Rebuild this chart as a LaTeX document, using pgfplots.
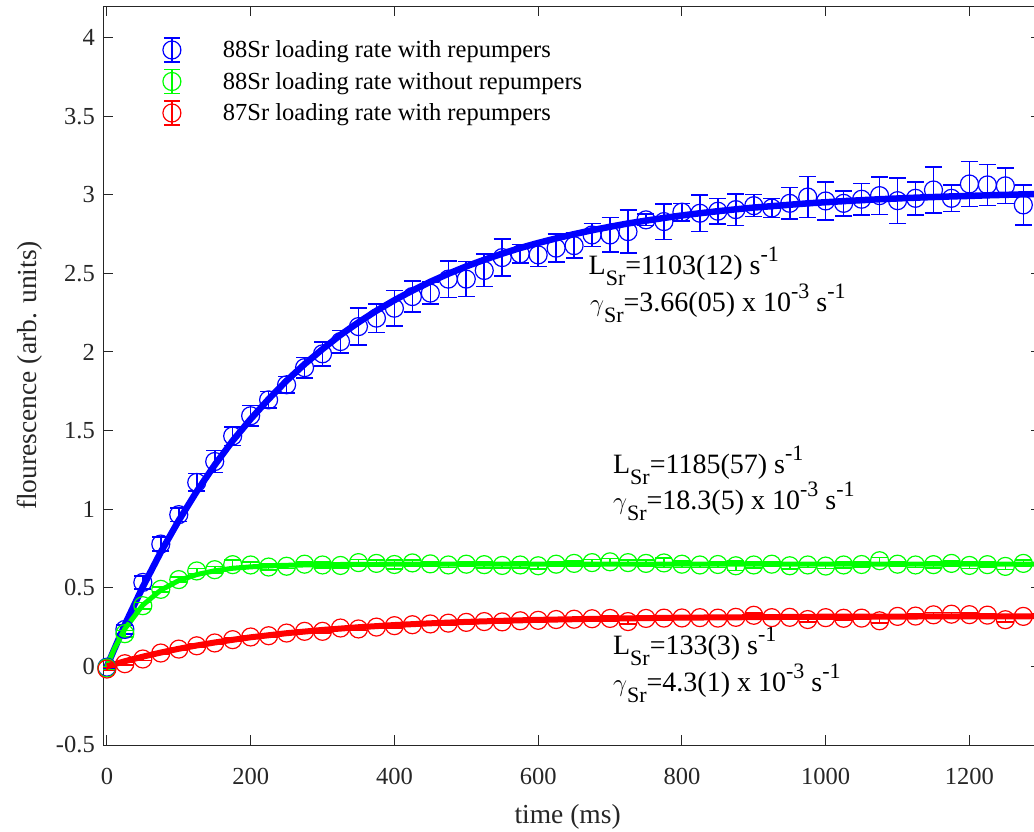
\documentclass[border=0pt]{standalone}
\usepackage{fontspec}
\setmainfont{Liberation Serif}
\usepackage{pgfplots}
\pgfplotsset{compat=1.18}
\usepackage{pgfplotstable}
\definecolor{axgray}{gray}{0.15}
\newcommand{\sbs}[1]{\raisebox{-11pt}{\fontsize{22}{22}\selectfont #1}}
\newcommand{\sps}[1]{\raisebox{13pt}{\fontsize{22}{22}\selectfont #1}}

\pgfplotstableread{
x y e
0 -0.005 0.01
25 0.235 0.03
50 0.534 0.04
75 0.778 0.046
100 0.965 0.043
125 1.170 0.056
150 1.303 0.069
175 1.465 0.059
200 1.594 0.064
225 1.695 0.053
250 1.791 0.053
275 1.900 0.064
300 1.988 0.076
325 2.066 0.071
350 2.161 0.117
375 2.215 0.091
400 2.278 0.112
425 2.352 0.098
450 2.374 0.071
475 2.463 0.116
500 2.463 0.111
525 2.518 0.103
550 2.600 0.119
575 2.624 0.058
600 2.617 0.074
625 2.660 0.09
650 2.676 0.08
675 2.744 0.074
700 2.744 0.11
725 2.765 0.136
750 2.840 0.037
775 2.829 0.113
800 2.889 0.055
825 2.882 0.117
850 2.895 0.08
875 2.905 0.10
900 2.930 0.07
925 2.915 0.06
950 2.945 0.10
975 2.985 0.13
1000 2.960 0.12
1025 2.945 0.08
1050 2.971 0.10
1075 2.994 0.12
1100 2.962 0.145
1125 2.977 0.105
1150 3.030 0.146
1175 2.977 0.085
1200 3.068 0.144
1225 3.062 0.13
1250 3.056 0.113
1275 2.935 0.127
}\bluedata

\pgfplotstableread{
x y
0 0
25 0.265
50 0.506
75 0.727
100 0.928
125 1.113
150 1.281
175 1.435
200 1.573
225 1.700
250 1.817
275 1.922
300 2.018
325 2.108
350 2.188
375 2.262
400 2.329
425 2.390
450 2.446
475 2.497
500 2.544
525 2.586
550 2.625
575 2.661
600 2.693
625 2.722
650 2.749
675 2.774
700 2.796
725 2.817
750 2.835
775 2.852
800 2.868
825 2.882
850 2.895
875 2.907
900 2.918
925 2.927
950 2.936
975 2.945
1000 2.952
1025 2.959
1050 2.965
1075 2.971
1100 2.976
1125 2.981
1150 2.985
1175 2.989
1200 2.992
1225 2.996
1250 2.999
1275 3.002
1300 3.004
}\bluefit

\pgfplotstableread{
x y e
0 -0.010 0.01
25 0.208 0.02
50 0.386 0.02
75 0.490 0.015
100 0.552 0.015
125 0.607 0.015
150 0.615 0.02
175 0.647 0.03
200 0.645 0.02
225 0.632 0.02
250 0.637 0.015
275 0.650 0.015
300 0.645 0.02
325 0.642 0.015
350 0.660 0.02
375 0.655 0.02
400 0.648 0.03
425 0.658 0.02
450 0.652 0.015
475 0.645 0.015
500 0.650 0.015
525 0.647 0.02
550 0.642 0.015
575 0.645 0.02
600 0.640 0.02
625 0.650 0.015
650 0.655 0.015
675 0.660 0.02
700 0.665 0.02
725 0.660 0.015
750 0.655 0.02
775 0.658 0.03
800 0.650 0.02
825 0.645 0.015
850 0.648 0.02
875 0.640 0.03
900 0.645 0.02
925 0.650 0.015
950 0.640 0.02
975 0.645 0.015
1000 0.638 0.015
1025 0.645 0.02
1050 0.648 0.015
1075 0.672 0.02
1100 0.650 0.015
1125 0.645 0.015
1150 0.647 0.02
1175 0.655 0.015
1200 0.642 0.02
1225 0.647 0.015
1250 0.636 0.02
1275 0.655 0.02
}\greendata

\pgfplotstableread{
x y
0 0
10 0.109
25 0.239
50 0.390
75 0.485
100 0.546
125 0.584
150 0.608
175 0.624
200 0.633
225 0.639
250 0.643
300 0.647
350 0.649
400 0.650
1300 0.650
}\greenfit

\pgfplotstableread{
x y e
0 -0.017 0.01
25 0.017 0.01
50 0.047 0.01
75 0.085 0.01
100 0.110 0.01
125 0.131 0.01
150 0.149 0.01
175 0.170 0.01
200 0.187 0.01
225 0.195 0.01
250 0.212 0.01
275 0.223 0.01
300 0.223 0.01
325 0.244 0.01
350 0.238 0.01
375 0.250 0.01
400 0.259 0.015
425 0.265 0.01
450 0.270 0.01
475 0.275 0.01
500 0.280 0.01
525 0.285 0.01
550 0.283 0.01
575 0.290 0.01
600 0.293 0.015
625 0.298 0.01
650 0.300 0.01
675 0.303 0.01
700 0.305 0.015
725 0.285 0.015
750 0.305 0.01
775 0.307 0.01
800 0.308 0.01
825 0.310 0.01
850 0.307 0.01
875 0.312 0.01
900 0.325 0.015
925 0.310 0.01
950 0.312 0.01
975 0.298 0.015
1000 0.310 0.01
1025 0.306 0.01
1050 0.307 0.01
1075 0.290 0.015
1100 0.318 0.01
1125 0.320 0.015
1150 0.328 0.015
1175 0.332 0.01
1200 0.329 0.01
1225 0.326 0.01
1250 0.297 0.015
1275 0.318 0.01
}\reddata

\pgfplotstableread{
x y
0 0
25 0.033
50 0.062
75 0.088
100 0.112
125 0.133
150 0.152
175 0.169
200 0.185
250 0.211
300 0.232
350 0.249
400 0.263
450 0.274
500 0.283
550 0.290
600 0.296
700 0.304
800 0.310
900 0.313
1000 0.316
1100 0.317
1200 0.318
1300 0.319
}\redfit

\pgfplotsset{
  errlegend/.style={legend image code/.code={
    \draw[#1, line width=1.5pt] (8pt,-12pt) -- (8pt,12pt) (0pt,-12pt) -- (16pt,-12pt) (0pt,12pt) -- (16pt,12pt);
    \draw[#1, line width=1.2pt] (8pt,0pt) circle (9pt);
    \path[draw=none, fill=none] (0pt,0pt) -- (58pt,0pt);}},
  fitstyle/.style 2 args={#1, line width=#2, line join=round, no marks, forget plot},
}

\begin{document}
\begin{tikzpicture}
\begin{axis}[
  name=ax,
  scale only axis, width=938pt, height=739pt,
  xmin=-5, xmax=1300, ymin=-0.5, ymax=4.2,
  axis line style={draw=axgray, line width=0.9pt},
  tick style={draw=axgray, line width=0.9pt},
  tick align=inside, major tick length=10pt,
  xtick={0,200,400,600,800,1000,1200},
  xticklabels={0,200,400,600,800,1000,1200},
  ytick={-0.5,0,0.5,1,1.5,2,2.5,3,3.5,4},
  yticklabels={-0.5,0,0.5,1,1.5,2,2.5,3,3.5,4},
  ticklabel style={font=\fontsize{24.5}{29}\selectfont, text=axgray},
  xticklabel style={yshift=-20pt},
  yticklabel style={xshift=-5pt},
  xlabel={time (ms)},
  ylabel={flourescence (arb. units)},
  label style={font=\fontsize{27.5}{32}\selectfont, text=axgray},
  xlabel style={at={(axis description cs:0.495,-0.0975)}, anchor=center},
  ylabel style={at={(axis description cs:-0.0785,0.5)}, anchor=center},
  legend style={draw=none, fill=none, at={(axis description cs:0.0627,0.958)},
    anchor=north west, font=\fontsize{24.5}{29}\selectfont, inner sep=0pt,
    row sep=6pt, nodes={inner sep=1pt}},
  legend cell align=left,
]
\addplot[only marks, blue, mark=o, mark size=9pt, mark options={line width=1.2pt, solid}, errlegend=blue,
  error bars/.cd, y dir=both, y explicit,
  error bar style={line width=1.6pt, blue},
  error mark options={rotate=90, mark size=8.5pt, line width=1.6pt, blue}]
  table[x=x, y=y, y error=e] {\bluedata};
\addlegendentry{88Sr loading rate with repumpers}
\addplot[fitstyle={blue}{6.5pt}] table[x=x, y=y] {\bluefit};
\addplot[only marks, green, mark=o, mark size=9pt, mark options={line width=1.2pt, solid}, errlegend=green,
  error bars/.cd, y dir=both, y explicit,
  error bar style={line width=1.6pt, green},
  error mark options={rotate=90, mark size=8.5pt, line width=1.6pt, green}]
  table[x=x, y=y, y error=e] {\greendata};
\addlegendentry{88Sr loading rate without repumpers}
\addplot[fitstyle={green}{5pt}] table[x=x, y=y] {\greenfit};
\addplot[only marks, red, mark=o, mark size=9pt, mark options={line width=1.2pt, solid}, errlegend=red,
  error bars/.cd, y dir=both, y explicit,
  error bar style={line width=1.6pt, red},
  error mark options={rotate=90, mark size=8.5pt, line width=1.6pt, red}]
  table[x=x, y=y, y error=e] {\reddata};
\addlegendentry{87Sr loading rate with repumpers}
\addplot[fitstyle={red}{6pt}] table[x=x, y=y] {\redfit};

\begin{scope}[every node/.style={anchor=base west, inner sep=0pt, font=\fontsize{28}{32}\selectfont}]
\node at (axis cs:670,2.490) {L\sbs{Sr}=1103(12) s\sps{-1}};
\node at (axis cs:672,2.257) {$\gamma$\sbs{Sr}=3.66(05) x 10\sps{-3} s\sps{-1}};
\node at (axis cs:704,1.2295) {L\sbs{Sr}=1185(57) s\sps{-1}};
\node at (axis cs:704,0.996) {$\gamma$\sbs{Sr}=18.3(5) x 10\sps{-3} s\sps{-1}};
\node at (axis cs:704,0.0744) {L\sbs{Sr}=133(3) s\sps{-1}};
\node at (axis cs:704,-0.159) {$\gamma$\sbs{Sr}=4.3(1) x 10\sps{-3} s\sps{-1}};
\end{scope}
\end{axis}
\pgfresetboundingbox
\useasboundingbox ([shift={(-103.3pt,-86pt)}]ax.south west) rectangle ([shift={(930.7pt,745pt)}]ax.south west);
\end{tikzpicture}
\end{document}
